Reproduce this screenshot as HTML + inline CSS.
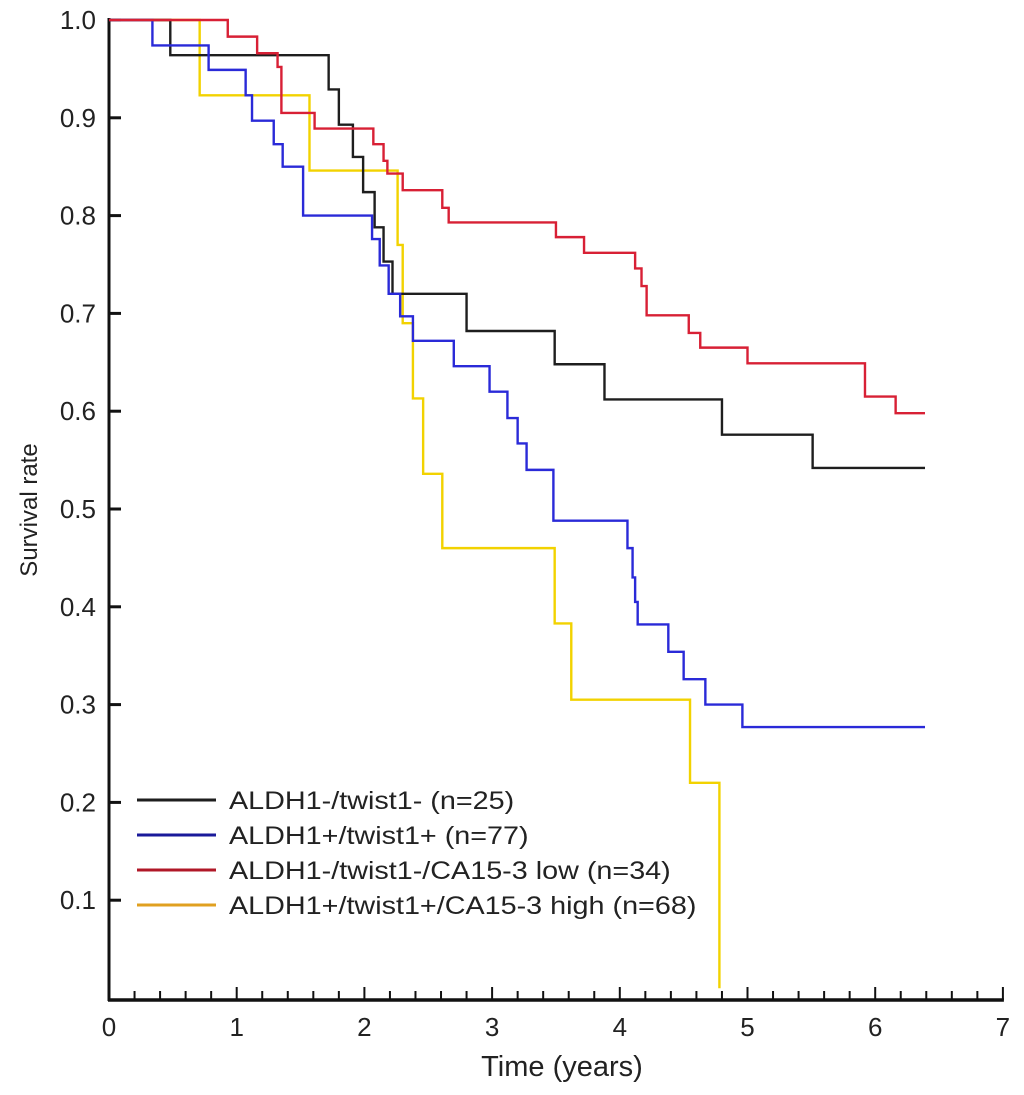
<!DOCTYPE html>
<html><head><meta charset="utf-8"><style>
html,body{margin:0;padding:0;background:#fff;}
svg{display:block;font-family:"Liberation Sans",Arial,sans-serif;}
</style></head><body>
<svg id="chart" width="1024" height="1095" viewBox="0 0 1024 1095" xmlns="http://www.w3.org/2000/svg">
<g id="axes"></g>
<g id="curves"></g>
<g id="legend"></g>
<text x="0" y="0" transform="translate(37,510) rotate(-90)" text-anchor="middle" font-size="24" fill="#222">Survival rate</text>
<text x="562" y="1076" text-anchor="middle" font-size="29" fill="#222">Time (years)</text>
</svg>
<script>
const xTicks = [0,1,2,3,4,5,6,7];
const yTicks = [1.0,0.9,0.8,0.7,0.6,0.5,0.4,0.3,0.2,0.1];
const seriesNames = ["ALDH1-/twist1- (n=25)","ALDH1+/twist1+ (n=77)","ALDH1-/twist1-/CA15-3 low  (n=34)","ALDH1+/twist1+/CA15-3 high (n=68)"];
const seriesColors = ["#1e1e1e","#2a2ad8","#d82035","#f2d200"];
const legendColors = ["#1e1e1e","#1a1a9a","#b01828","#e0a020"];
const blackT = [0,0.48,1.72,1.80,1.91,1.99,2.08,2.15,2.22,2.80,3.49,3.88,4.80,5.51,6.39];
const blackS = [1.0,0.964,0.929,0.893,0.86,0.824,0.788,0.753,0.72,0.682,0.648,0.612,0.576,0.542,0.542];
const blueT = [0,0.34,0.78,1.07,1.12,1.29,1.36,1.52,2.06,2.12,2.19,2.28,2.38,2.70,2.98,3.12,3.20,3.27,3.48,4.06,4.10,4.12,4.14,4.38,4.50,4.67,4.96,6.39];
const blueS = [1.0,0.974,0.949,0.923,0.897,0.873,0.85,0.8,0.776,0.749,0.72,0.697,0.672,0.646,0.62,0.593,0.567,0.54,0.488,0.46,0.43,0.405,0.382,0.354,0.326,0.30,0.277,0.277];
const redT = [0,0.93,1.16,1.32,1.35,1.61,2.07,2.15,2.18,2.30,2.61,2.66,3.50,3.72,4.12,4.17,4.21,4.54,4.63,5.0,5.92,6.16,6.39];
const redS = [1.0,0.983,0.966,0.952,0.905,0.889,0.873,0.856,0.843,0.826,0.808,0.793,0.778,0.762,0.746,0.728,0.698,0.68,0.665,0.649,0.615,0.598,0.598];
const yellowT = [0,0.71,1.57,2.26,2.30,2.38,2.46,2.61,3.49,3.62,4.55,4.78];
const yellowS = [1.0,0.923,0.846,0.77,0.69,0.613,0.536,0.46,0.383,0.305,0.22,0.01];

const NS="http://www.w3.org/2000/svg";
const X0=109, XU=127.7, Y1=20, YH=978;
const sx=t=>X0+t*XU;
const sy=v=>Y1+(1-v)*YH;
function mk(tag,attrs,parent){const e=document.createElementNS(NS,tag);for(const k in attrs)e.setAttribute(k,attrs[k]);parent.appendChild(e);return e;}

const axes=document.getElementById('axes');
const yAxis=mk('line',{x1:X0,y1:18,x2:X0,y2:1001,stroke:'#111','stroke-width':3},axes);


const xAxis=mk('line',{x1:X0-1,y1:1000,x2:sx(7)+1,y2:1000,stroke:'#111','stroke-width':3.5},axes);


for(let i=1;i<=35;i++){
  const t=i/5, major=(i%5===0);
  const tk=mk('line',{x1:sx(t),y1:1000,x2:sx(t),y2:major?987:991,stroke:'#111','stroke-width':2},axes);
  
  
}
xTicks.forEach(t=>{
  const tx=mk('text',{x:sx(t),y:1036,'text-anchor':'middle','font-size':26,fill:'#222'},axes);
  tx.textContent=t;
  
  
});
yTicks.forEach(v=>{
  const y = sy(v);
  const tk=mk('line',{x1:X0,y1:y,x2:X0+12,y2:y,stroke:'#111','stroke-width':3},axes);
  
  
  const tx=mk('text',{x:96,y:y+9,'text-anchor':'end','font-size':26,fill:'#222'},axes);
  tx.textContent=v.toFixed(1);
  
  
});

const curves=document.getElementById('curves');
function stepPath(T,S){
  let d='M'+sx(T[0])+','+sy(S[0]);
  for(let i=1;i<T.length;i++){d+=' H'+sx(T[i])+' V'+sy(S[i]);}
  return d;
}
const all=[[yellowT,yellowS,3,'curve-aldh1-pos-ca153-high'],[blackT,blackS,0,'curve-aldh1-neg'],[blueT,blueS,1,'curve-aldh1-pos'],[redT,redS,2,'curve-aldh1-neg-ca153-low']];
all.forEach(([T,S,ci,name])=>{
  const p=mk('path',{d:stepPath(T,S),fill:'none',stroke:seriesColors[ci],'stroke-width':2.4},curves);
  
  
});

const legend=document.getElementById('legend');
seriesNames.forEach((n,i)=>{
  const y=800+i*35;
  const l=mk('line',{x1:137,y1:y,x2:216,y2:y,stroke:legendColors[i],'stroke-width':3},legend);
  
  
  const tx=mk('text',{x:0,y:0,transform:'translate(229,'+(y+9)+') scale(1.15,1)','font-size':25,fill:'#222'},legend);
  tx.textContent=n;
  
  
});
</script>
</body></html>
